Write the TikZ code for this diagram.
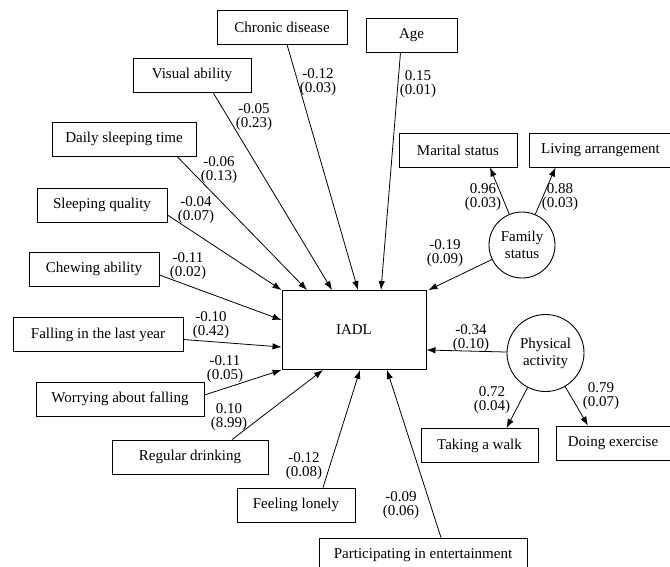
\documentclass[tikz,border=0pt]{standalone}
\usepackage{fontspec}
\setmainfont{Liberation Serif}
\usetikzlibrary{arrows.meta}
\tikzset{
	var/.style={draw, line width=0.9pt, minimum height=34pt, inner sep=0pt,
		font=\fontsize{15pt}{14.5pt}\selectfont},
	latent/.style={draw, circle, line width=0.9pt, inner sep=0pt, align=center,
		font=\fontsize{15pt}{17pt}\selectfont},
	coef/.style={align=center, inner sep=0pt,
		font=\fontsize{15pt}{14.5pt}\selectfont},
	path/.style={line width=0.8pt, -{Latex[length=9pt,width=6.5pt]}}
}
\begin{document}
\begin{tikzpicture}[x=1pt, y=-1pt]
	\clip (0,0) rectangle (670,566);
	% Ergebnis
	\node[var, minimum width=144pt, minimum height=79pt] (iadl) at (354,330) {IADL};
	% Einflussgroessen oben
	\node[var, minimum width=130pt] (chronic) at (282,27) {Chronic disease};
	\node[var, minimum width=91pt] (age) at (411.5,35) {Age};
	\node[var, minimum width=118pt] (visual) at (192,75) {Visual ability};
	\node[var, minimum width=144pt] (daily) at (124,139) {Daily sleeping time};
	\node[var, minimum width=130pt] (sleepq) at (102,205) {Sleeping quality};
	\node[var, minimum width=130pt] (chewing) at (94,269) {Chewing ability};
	% Einflussgroessen unten
	\node[var, minimum width=170pt] (falling) at (98,334.5) {Falling in the last year};
	\node[var, minimum width=168pt] (worrying) at (120,399) {Worrying about falling};
	\node[var, minimum width=156pt] (drinking) at (190,457) {Regular drinking};
	\node[var, minimum width=118pt] (lonely) at (296,505) {Feeling lonely};
	\node[var, minimum width=208pt] (entert) at (423,555) {Participating in entertainment};
	% latente Variablen
	\node[latent, minimum size=66pt] (family) at (522,245) {Family\\status};
	\node[latent, minimum size=77pt] (physical) at (545.5,353) {Physical\\activity};
	\node[var, minimum width=118pt] (marital) at (458,150) {Marital status};
	\node[var, minimum width=143pt] (living) at (600.5,150) {Living arrangement};
	\node[var, minimum width=117pt] (walk) at (479.5,445.5) {Taking a walk};
	\node[var, minimum width=114pt] (exercise) at (613,443) {Doing exercise};
	% Pfade
	\draw[path] ([xshift=5pt]chronic.south) -- ([xshift=4pt]iadl.north);
	\draw[path] ([xshift=-11pt]age.south) -- ([xshift=27pt]iadl.north);
	\draw[path] ([xshift=21pt]visual.south) -- ([xshift=-22pt]iadl.north);
	\draw[path] ([xshift=53pt]daily.south) -- ([xshift=-47pt]iadl.north);
	\draw[path] ([yshift=-10pt]sleepq.east) -- (iadl.north west);
	\draw[path] ([yshift=-6pt]chewing.east) -- ([yshift=10pt]iadl.west);
	\draw[path] ([yshift=-5pt]falling.east) -- ([yshift=-17pt]iadl.west);
	\draw[path] ([yshift=4pt]worrying.east) -- (iadl.south west);
	\draw[path] ([xshift=42pt]drinking.north) -- ([xshift=-31pt]iadl.south);
	\draw[path] ([xshift=27pt]lonely.north) -- ([xshift=6pt]iadl.south);
	\draw[path] ([xshift=18pt]entert.north) -- ([xshift=33pt]iadl.south);
	\draw[path] (physical) -- ([yshift=-20pt]iadl.east);
	\draw[path] (family) -- ([xshift=2pt]iadl.north east);
	\draw[path] (physical) -- ([xshift=27pt]walk.north);
	\draw[path] (physical) -- ([xshift=-25pt]exercise.north);
	\draw[path] (family) -- ([xshift=32pt]marital.south);
	\draw[path] (family) -- ([xshift=-45pt]living.south);
	% Koeffizienten
	\node[coef] (cchronic) at (318,82) {-0.12\\(0.03)};
	\node[coef] (cage) at (418,84) {0.15\\(0.01)};
	\node[coef] (cvisual) at (254,117) {-0.05\\(0.23)};
	\node[coef] (cdaily) at (219,170) {-0.06\\(0.13)};
	\node[coef] (csleepq) at (196,210) {-0.04\\(0.07)};
	\node[coef] (cchewing) at (188,266) {-0.11\\(0.02)};
	\node[coef] (cfalling) at (211,325) {-0.10\\(0.42)};
	\node[coef] (cworrying) at (225,369) {-0.11\\(0.05)};
	\node[coef] (cdrinking) at (229,417) {0.10\\(8.99)};
	\node[coef] (clonely) at (304,466) {-0.12\\(0.08)};
	\node[coef] (centert) at (401,505) {-0.09\\(0.06)};
	\node[coef] (cphysical) at (471,338) {-0.34\\(0.10)};
	\node[coef] (cfamily) at (445,253) {-0.19\\(0.09)};
	\node[coef] (cmarital) at (483,197) {0.96\\(0.03)};
	\node[coef] (cliving) at (560,197) {0.88\\(0.03)};
	\node[coef] (cwalk) at (492,400) {0.72\\(0.04)};
	\node[coef] (cexercise) at (601,396) {0.79\\(0.07)};
\end{tikzpicture}
\end{document}
